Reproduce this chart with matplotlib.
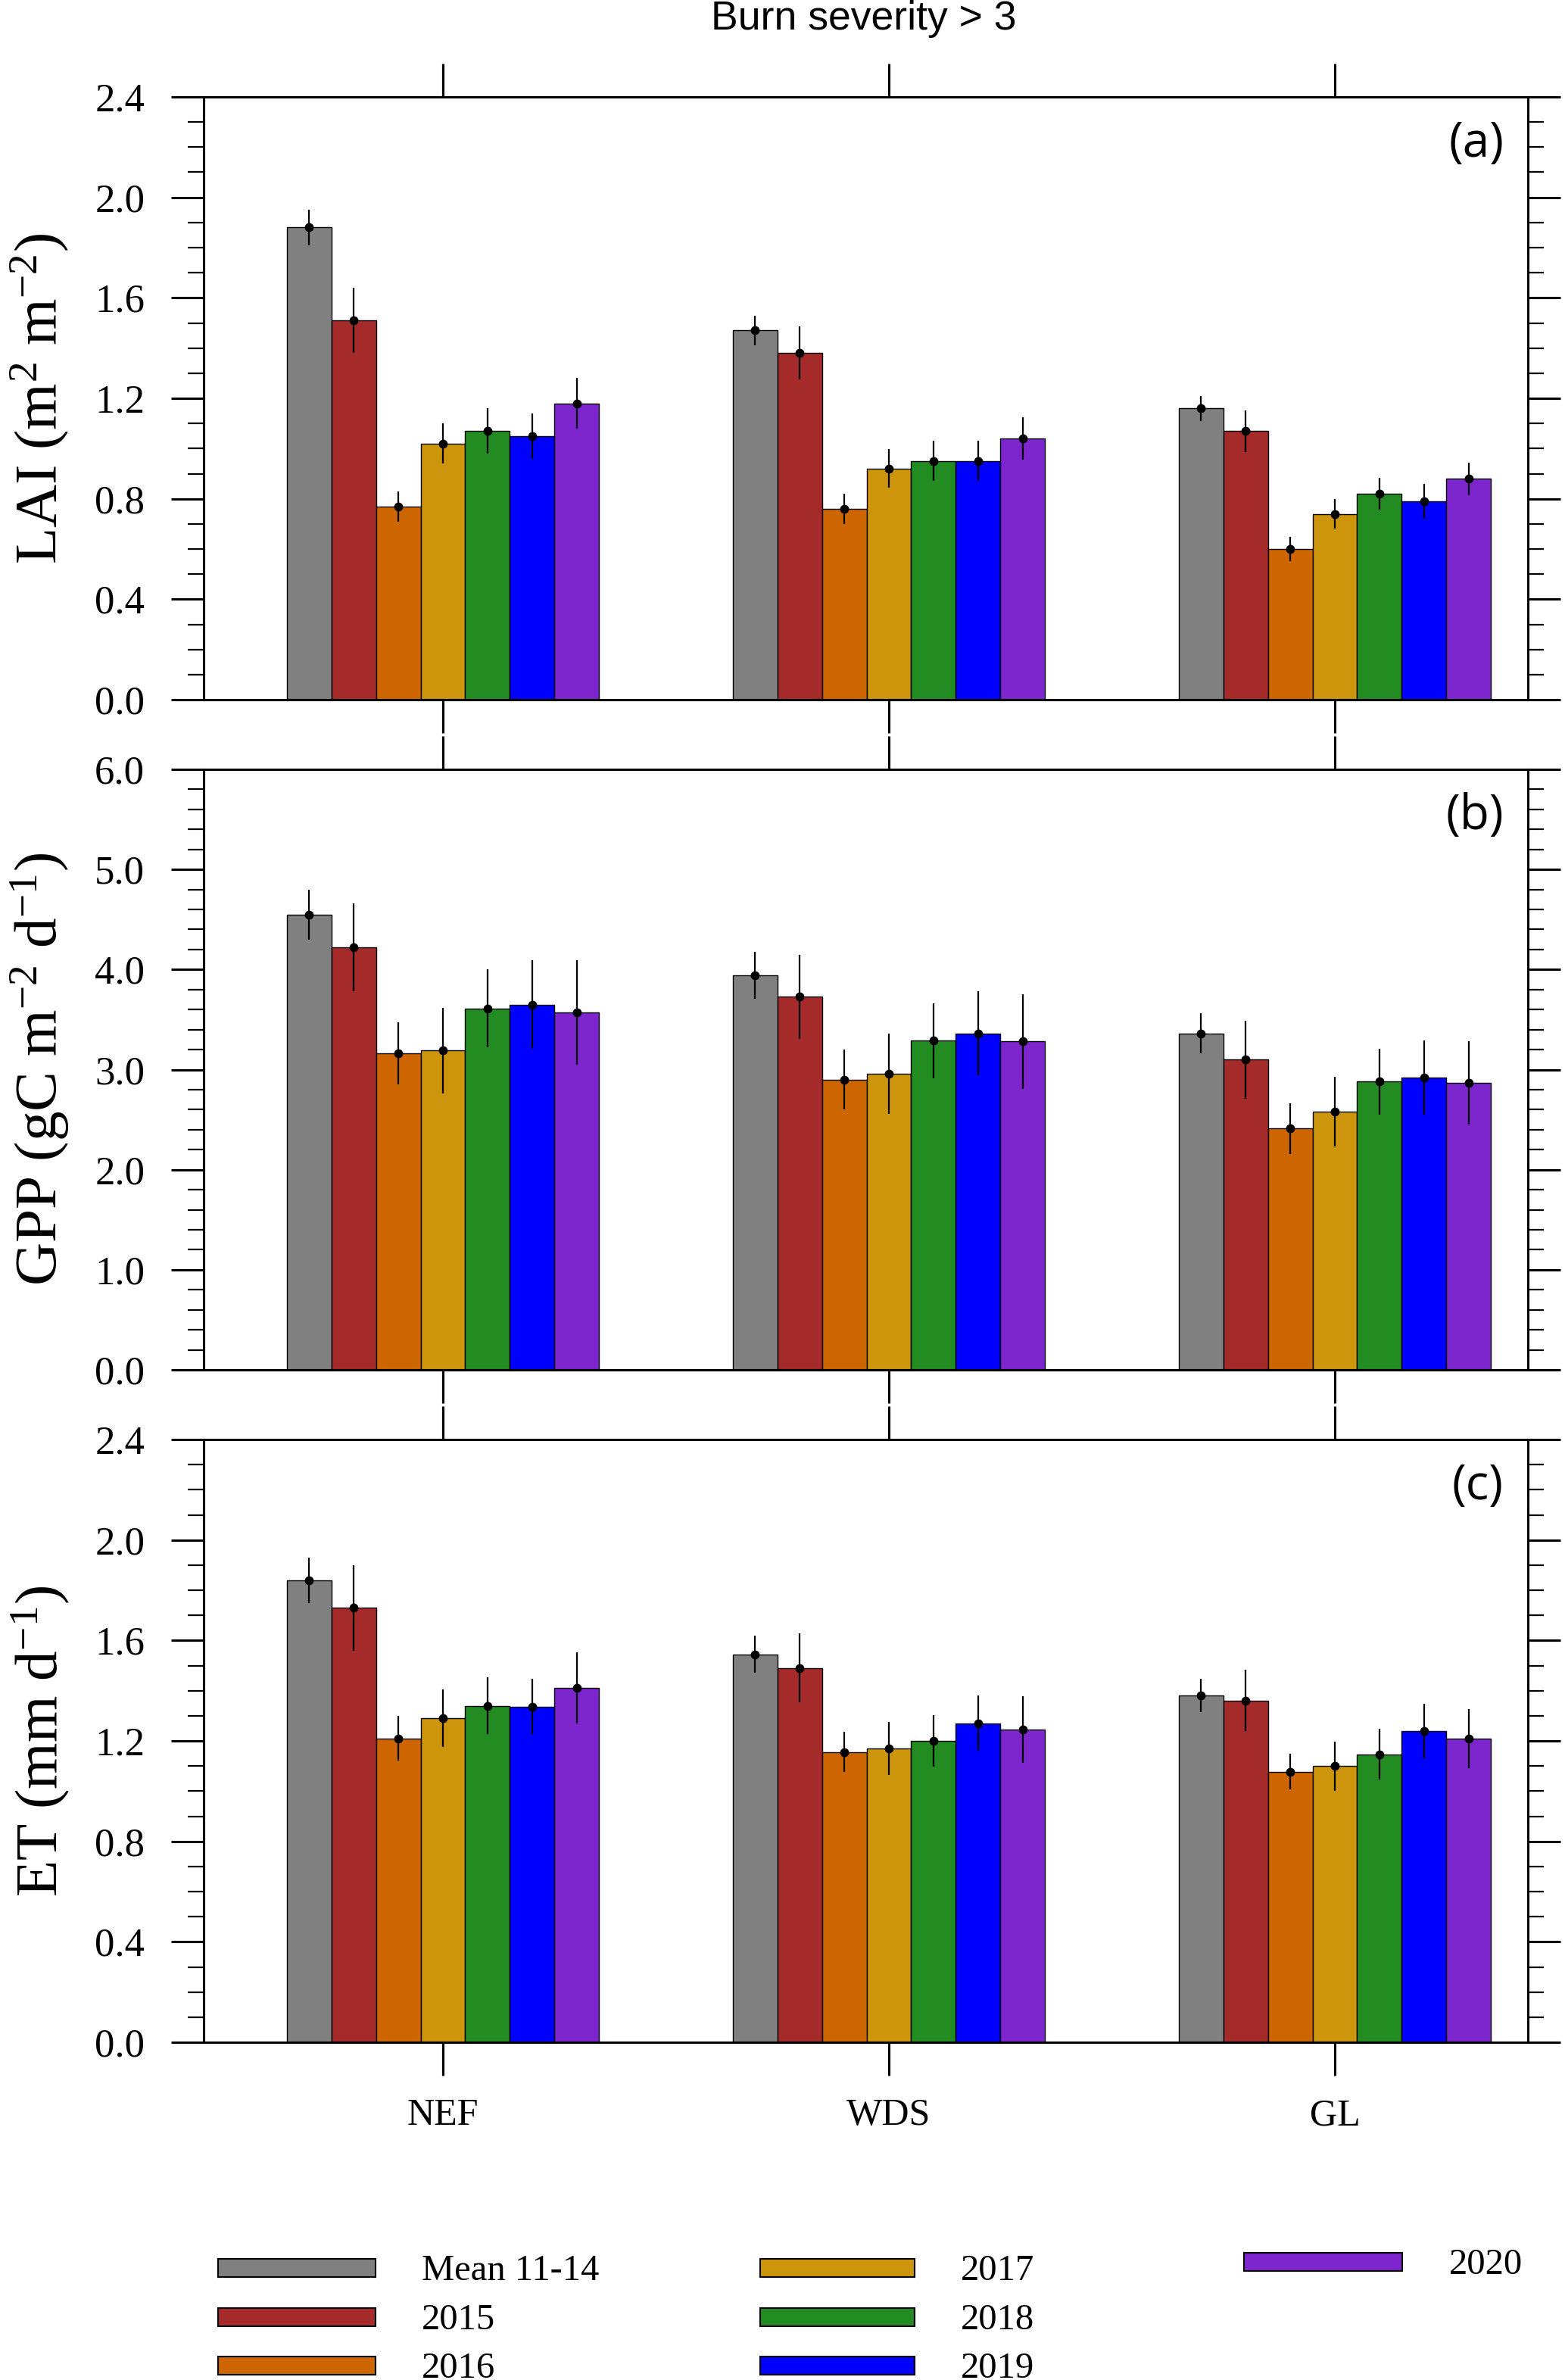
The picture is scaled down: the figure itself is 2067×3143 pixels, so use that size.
import matplotlib
matplotlib.use('Agg')
import matplotlib.pyplot as plt
import numpy as np
from matplotlib.patches import Rectangle
from matplotlib.ticker import MultipleLocator, FormatStrFormatter

SERIF = ['Liberation Serif', 'DejaVu Serif']
plt.rcParams['font.family'] = SERIF
plt.rcParams['mathtext.fontset'] = 'custom'
plt.rcParams['mathtext.rm'] = 'Liberation Serif'
plt.rcParams['mathtext.it'] = 'Liberation Serif:italic'

# ---------------- data ----------------
categories = ['NEF', 'WDS', 'GL']
series = ['Mean 11-14', '2015', '2016', '2017', '2018', '2019', '2020']
colors = ['#808080', '#A52A2A', '#CD6600', '#CD950C', '#228B22', '#0000FF', '#7D26CD']

lai_mean = [[1.88, 1.47, 1.16],
            [1.51, 1.38, 1.07],
            [0.77, 0.76, 0.60],
            [1.02, 0.92, 0.74],
            [1.07, 0.95, 0.82],
            [1.05, 0.95, 0.79],
            [1.18, 1.04, 0.88]]
lai_err = [[0.07, 0.06, 0.05],
           [0.13, 0.105, 0.083],
           [0.06, 0.06, 0.047],
           [0.08, 0.077, 0.06],
           [0.09, 0.08, 0.064],
           [0.09, 0.08, 0.068],
           [0.10, 0.085, 0.065]]

gpp_mean = [[4.55, 3.94, 3.36],
            [4.22, 3.73, 3.10],
            [3.16, 2.90, 2.41],
            [3.19, 2.96, 2.58],
            [3.61, 3.29, 2.88],
            [3.65, 3.36, 2.92],
            [3.57, 3.28, 2.87]]
gpp_err = [[0.25, 0.235, 0.20],
           [0.44, 0.42, 0.39],
           [0.31, 0.30, 0.25],
           [0.43, 0.40, 0.345],
           [0.39, 0.375, 0.33],
           [0.44, 0.42, 0.37],
           [0.52, 0.475, 0.415]]

et_mean = [[1.84, 1.545, 1.38],
           [1.73, 1.49, 1.36],
           [1.21, 1.155, 1.077],
           [1.29, 1.17, 1.10],
           [1.34, 1.20, 1.147],
           [1.336, 1.27, 1.24],
           [1.41, 1.245, 1.21]]
et_err = [[0.09, 0.075, 0.066],
          [0.17, 0.137, 0.122],
          [0.088, 0.08, 0.071],
          [0.114, 0.105, 0.098],
          [0.113, 0.104, 0.102],
          [0.11, 0.11, 0.109],
          [0.142, 0.133, 0.118]]

ylabels = ['LAI (m$^{2}$ m$^{-2}$)', 'GPP (gC m$^{-2}$ d$^{-1}$)', 'ET (mm d$^{-1}$)']
panel_tags = ['(a)', '(b)', '(c)']
ymax = [2.4, 6.0, 2.4]
ymajor = [0.4, 1.0, 0.4]
yminor = [0.1, 0.2, 0.1]
title = 'Burn severity > 3'

# ---------------- layout ----------------
W, H = 2067, 3143
fig = plt.figure(figsize=(W / 100, H / 100), dpi=100)
fig.patch.set_facecolor('white')

def fx(px):
    return px / W

def fy(py):
    return 1 - py / H

panels_px = [(128, 924), (1016, 1809), (1901, 2697)]
L, R = 269, 2018

x = np.arange(1, len(categories) + 1)
width = 0.1
offsets = (np.arange(len(series)) - 3) * width

data = [(lai_mean, lai_err), (gpp_mean, gpp_err), (et_mean, et_err)]

for p, ((top, bot), (means, errs)) in enumerate(zip(panels_px, data)):
    ax = fig.add_axes([fx(L), fy(bot), (R - L) / W, (bot - top) / H])
    for i, s in enumerate(series):
        ax.bar(x + offsets[i], means[i], width, color=colors[i],
               edgecolor='black', linewidth=1.0, zorder=2, label=s)
        ax.errorbar(x + offsets[i], means[i], yerr=errs[i], fmt='o',
                    color='black', ms=7.5, elinewidth=1.6, capsize=0, zorder=3)
    ax.set_xlim(0.4635, 3.433)
    ax.set_ylim(0, ymax[p])
    ax.yaxis.set_major_locator(MultipleLocator(ymajor[p]))
    ax.yaxis.set_minor_locator(MultipleLocator(yminor[p]))
    ax.yaxis.set_major_formatter(FormatStrFormatter('%.1f'))
    ax.set_xticks(x)
    if p == 2:
        ax.set_xticklabels(categories)
    else:
        ax.set_xticklabels([])
    ax.tick_params(axis='x', which='major', direction='out', length=32, width=2.2,
                   top=True, bottom=True, labelsize=36, pad=21)
    ax.tick_params(axis='x', which='minor', bottom=False, top=False)
    ax.tick_params(axis='y', which='major', direction='out', length=31, width=2.2,
                   left=True, right=True, labelsize=38, pad=25)
    ax.tick_params(axis='y', which='minor', direction='out', length=15, width=1.6,
                   left=True, right=True)
    for lab in ax.get_yticklabels() + ax.get_xticklabels():
        lab.set_fontfamily(SERIF)
    for sp in ax.spines.values():
        sp.set_linewidth(2.2)
    ax.set_ylabel(ylabels[p], fontsize=57, fontfamily=SERIF)
    ax.yaxis.set_label_coords((94 - L) / (R - L), 0.5)
    ax.text(1 - (2018 - 1986) / (R - L), 1 - 62 / (bot - top), panel_tags[p],
            transform=ax.transAxes, ha='right', va='center',
            fontsize=46, family=['Open Sans', 'DejaVu Sans'])

fig.text(fx(1141), fy(25), title, ha='center', va='center',
         fontsize=38.5, family=['Liberation Sans', 'DejaVu Sans'])

# ---------------- legend ----------------
col_box_x = [(288, 496), (1004, 1208), (1643, 1852)]
col_text_x = [557, 1269, 1914]
row_y = [2995, 3060, 3124]
box_h = 24
for i, s in enumerate(series):
    c = i // 3
    r = i % 3
    yc = row_y[r] if c < 2 else 2987
    x0, x1 = col_box_x[c]
    rect = Rectangle((fx(x0), fy(yc + box_h / 2)), (x1 - x0) / W, box_h / H,
                     transform=fig.transFigure, facecolor=colors[i],
                     edgecolor='black', linewidth=1.5)
    fig.add_artist(rect)
    fig.text(fx(col_text_x[c]), fy(yc + 16), s, ha='left', va='baseline',
             fontsize=35, fontfamily=SERIF)

fig.savefig('out.png', dpi=100, facecolor='white')
